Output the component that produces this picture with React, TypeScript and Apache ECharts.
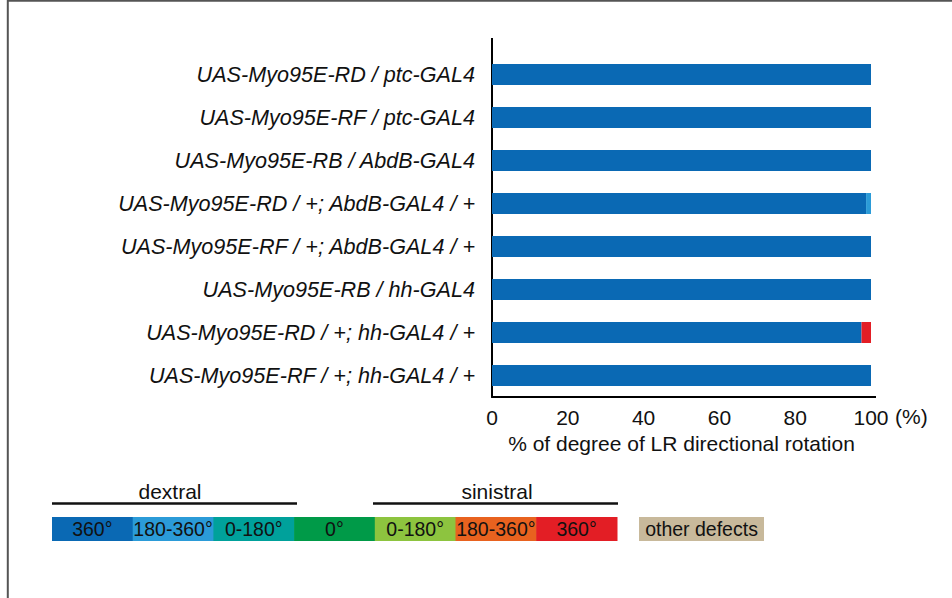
import React, { useEffect, useRef } from "react";
import * as echarts from "echarts";

const categories = [
  "UAS-Myo95E-RD / ptc-GAL4",
  "UAS-Myo95E-RF / ptc-GAL4",
  "UAS-Myo95E-RB / AbdB-GAL4",
  "UAS-Myo95E-RD / +; AbdB-GAL4 / +",
  "UAS-Myo95E-RF / +; AbdB-GAL4 / +",
  "UAS-Myo95E-RB / hh-GAL4",
  "UAS-Myo95E-RD / +; hh-GAL4 / +",
  "UAS-Myo95E-RF / +; hh-GAL4 / +",
];

const dextral360 = [100, 100, 100, 98.7, 100, 100, 97.5, 100];
const dextral180to360 = [0, 0, 0, 1.3, 0, 0, 0, 0];
const dextral0to180 = [0, 0, 0, 0, 0, 0, 0, 0];
const zeroDeg = [0, 0, 0, 0, 0, 0, 0, 0];
const sinistral0to180 = [0, 0, 0, 0, 0, 0, 0, 0];
const sinistral180to360 = [0, 0, 0, 0, 0, 0, 0, 0];
const sinistral360 = [0, 0, 0, 0, 0, 0, 2.5, 0];
const otherDefects = [0, 0, 0, 0, 0, 0, 0, 0];

const legendLabels = ["360°", "180-360°", "0-180°", "0°", "0-180°", "180-360°", "360°"];
const seriesNames = [
  "dextral 360°",
  "dextral 180-360°",
  "dextral 0-180°",
  "0°",
  "sinistral 0-180°",
  "sinistral 180-360°",
  "sinistral 360°",
  "other defects",
];
const seriesData = [
  dextral360,
  dextral180to360,
  dextral0to180,
  zeroDeg,
  sinistral0to180,
  sinistral180to360,
  sinistral360,
  otherDefects,
];
const colors = ["#0a69b4", "#2b9bd8", "#00a19b", "#009a48", "#8dc43f", "#e8621f", "#e31e25", "#c8b99b"];
const xTicks = [0, 20, 40, 60, 80, 100];

const FONT = "'Liberation Sans', Arial, Helvetica, sans-serif";

export default function App() {
  const ref = useRef<HTMLDivElement>(null);
  useEffect(() => {
    if (!ref.current) return;
    const chart = echarts.init(ref.current, undefined, { renderer: "svg" });

    const gridLeft = 492;
    const gridRight = 871;
    const gridTop = 53;
    const gridBottom = 397;

    const segW = 80.7;
    const legX = 52;
    const legY = 517;
    const legH = 24;

    const graphic: any[] = [
      // frame
      { type: "line", shape: { x1: 7, y1: 0.8, x2: 952, y2: 0.8 }, style: { stroke: "#555", lineWidth: 2 } },
      { type: "line", shape: { x1: 7.8, y1: 0, x2: 7.8, y2: 598 }, style: { stroke: "#555", lineWidth: 2 } },
      // axis extensions
      { type: "line", shape: { x1: gridLeft, y1: 38, x2: gridLeft, y2: gridTop }, style: { stroke: "#000", lineWidth: 2 } },
      { type: "line", shape: { x1: gridRight - 1, y1: gridBottom, x2: 876, y2: gridBottom }, style: { stroke: "#000", lineWidth: 2 } },
      { type: "text", x: 895, y: 416, style: { text: "(%)", font: `21px ${FONT}`, fill: "#111", textAlign: "left", textVerticalAlign: "middle" } },
      // legend group lines
      { type: "line", shape: { x1: 52, y1: 503.5, x2: 297, y2: 503.5 }, style: { stroke: "#111", lineWidth: 2.5 } },
      { type: "line", shape: { x1: 373, y1: 503.5, x2: 618, y2: 503.5 }, style: { stroke: "#111", lineWidth: 2.5 } },
      { type: "text", x: 170, y: 491, style: { text: "dextral", font: `21px ${FONT}`, fill: "#111", textAlign: "center", textVerticalAlign: "middle" } },
      { type: "text", x: 497, y: 491, style: { text: "sinistral", font: `21px ${FONT}`, fill: "#111", textAlign: "center", textVerticalAlign: "middle" } },
    ];
    legendLabels.forEach((lab, i) => {
      graphic.push({
        type: "rect",
        shape: { x: legX + i * segW, y: legY, width: segW + 0.6, height: legH },
        style: { fill: colors[i] },
      });
      graphic.push({
        type: "text",
        x: legX + i * segW + segW / 2,
        y: legY + legH / 2,
        style: { text: lab, font: `19.5px ${FONT}`, fill: "#111", textAlign: "center", textVerticalAlign: "middle" },
      });
    });
    graphic.push({ type: "rect", shape: { x: 639, y: legY, width: 125, height: legH }, style: { fill: colors[7] } });
    graphic.push({
      type: "text",
      x: 701.5,
      y: legY + legH / 2,
      style: { text: "other defects", font: `19.5px ${FONT}`, fill: "#111", textAlign: "center", textVerticalAlign: "middle" },
    });

    chart.setOption({
      animation: false,
      backgroundColor: "#fff",
      grid: { left: gridLeft, right: 952 - gridRight, top: gridTop, bottom: 598 - gridBottom, containLabel: false },
      xAxis: {
        type: "value",
        min: 0,
        max: 100,
        interval: 20,
        axisLine: { show: true, lineStyle: { color: "#000", width: 2 } },
        axisTick: { show: false },
        splitLine: { show: false },
        axisLabel: {
          margin: 10,
          fontSize: 21,
          fontFamily: FONT,
          color: "#111",
          customValues: xTicks,
        },
        name: "% of degree of LR directional rotation",
        nameLocation: "middle",
        nameGap: 32,
        nameTextStyle: { fontSize: 21, fontFamily: FONT, color: "#111", verticalAlign: "top" },
      },
      yAxis: {
        type: "category",
        data: categories,
        inverse: true,
        axisLine: { show: true, lineStyle: { color: "#000", width: 2 } },
        axisTick: { show: false },
        axisLabel: {
          margin: 17,
          fontSize: 21.6,
          fontStyle: "italic",
          fontFamily: FONT,
          color: "#111",
        },
      },
      series: seriesNames.map((name, i) => ({
        name,
        type: "bar",
        stack: "total",
        barWidth: 21,
        data: seriesData[i],
        itemStyle: { color: colors[i] },
      })),
      graphic,
    });
    return () => chart.dispose();
  }, []);
  return <div ref={ref} style={{ position: "absolute", left: 0, top: 0, width: 952, height: 598 }} />;
}
